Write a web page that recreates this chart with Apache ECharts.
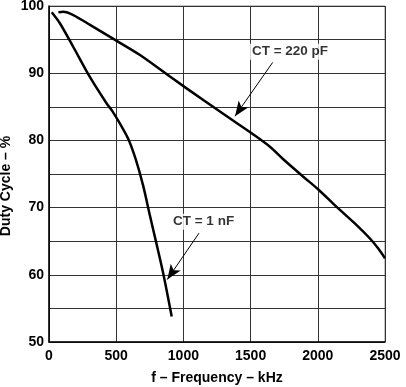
<!DOCTYPE html>
<html><head><meta charset="utf-8">
<script src="https://cdn.jsdelivr.net/npm/echarts@6/dist/echarts.min.js"></script>
<style>html,body{margin:0;padding:0;background:#fff}#c{width:406px;height:387px}</style>
</head><body><div id="c"></div>
<script>
const ct1nF = [[20,99.06],[82,97.4],[181,93.9],[305,89.4],[429,85.5],[470,84.4],[528,82.5],[590,80.2],[645,77.2],[700,73.3],[750,68.9],[800,64.6],[850,60.2],[913,53.8]];
const ct220pF = [[70,99.06],[106,99.15],[181,98.66],[305,97.2],[504,94.8],[677,92.7],[900,89.5],[1148,86.0],[1396,82.6],[1508,81.06],[1644,79.06],[1743,77.2],[1892,74.6],[2004,72.7],[2140,70.1],[2289,67.4],[2388,65.4],[2450,63.9],[2500,62.45]];
const xTicks = [0,500,1000,1500,2000,2500];
const yTicks = [50,60,70,80,90,100];
const labels = [{text:'CT = 220 pF', at:[1793,93.2]},{text:'CT = 1 nF', at:[1150,67.9]}];
const arrows = [[[1664,91.6],[1384,83.6]],[[1116,66.2],[880,59.3]]];
const yTitle = 'Duty Cycle – %';

const font = {fontFamily:'Liberation Sans, Arial, sans-serif', fontWeight:'bold', fontSize:14, color:'#000'};
const chart = echarts.init(document.getElementById('c'));
chart.setOption({
  animation:false,
  grid:{left:49,right:21,top:6,bottom:45,show:true,borderColor:'#888',borderWidth:1,outerBoundsMode:'none',containLabel:false},
  graphic:[{type:'text',x:6,y:186,rotation:Math.PI/2,
    style:{text:yTitle,font:'bold 14px "Liberation Sans", Arial, sans-serif',fill:'#000',align:'center',verticalAlign:'middle'}}],
  xAxis:{type:'value',min:0,max:2500,interval:500,
    name:'f – Frequency – kHz',nameLocation:'middle',nameGap:29,nameMoveOverlap:false,nameTextStyle:font,
    axisLine:{lineStyle:{color:'#000',width:1.5}},axisTick:{show:false},
    axisLabel:Object.assign({},font,{margin:7,formatter:v=>xTicks.includes(v)?String(v):''}),
    splitLine:{lineStyle:{color:'#333',width:1}}},
  yAxis:{type:'value',min:50,max:100,interval:5,
    axisLine:{show:true,lineStyle:{color:'#000',width:1.5}},axisTick:{show:false},
    axisLabel:Object.assign({},font,{margin:5,formatter:v=>yTicks.includes(v)?String(v):''}),
    splitLine:{lineStyle:{color:'#333',width:1}}},
  series:[
    {type:'line',data:ct1nF,smooth:0.3,symbol:'none',lineStyle:{color:'#000',width:2.5},
      markLine:{silent:true,symbol:['none','arrow'],symbolSize:[9,15],lineStyle:{color:'#000',width:1,type:'solid'},label:{show:false},
        data:arrows.map(a=>[{coord:a[0]},{coord:a[1]}])}},
    {type:'line',data:ct220pF,smooth:0.3,symbol:'none',lineStyle:{color:'#000',width:2.5}},
    {type:'scatter',data:labels.map(l=>({value:l.at,name:l.text})),symbolSize:0,
      label:{show:true,position:'inside',formatter:p=>p.name,...font,fontSize:13.5,backgroundColor:'#fff',padding:[1,2]}}
  ]
});
</script></body></html>
